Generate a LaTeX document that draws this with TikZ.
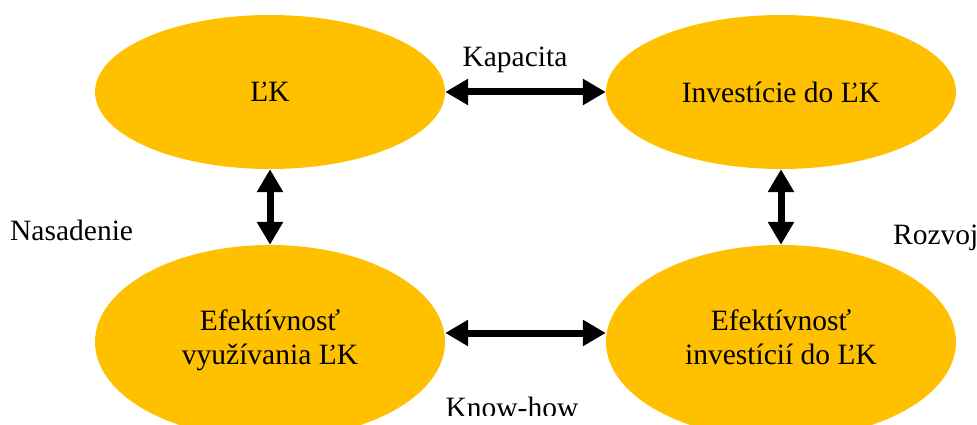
\documentclass[tikz,border=0pt]{standalone}
\usepackage{fontspec}
\setmainfont{Liberation Serif}
\usetikzlibrary{shapes.geometric,arrows.meta}
\definecolor{gold}{HTML}{FFC000}
\tikzset{
  blob/.style={ellipse, fill=gold, draw=none, minimum width=350pt, inner sep=0pt,
    font=\fontsize{29.5}{34}\selectfont, align=center, text depth=0pt},
  tallblob/.style={blob, minimum height=194pt, text depth=9pt},
  link/.style={line width=7pt, {Triangle[length=23pt,width=25pt]}-{Triangle[length=23pt,width=25pt]}},
  tag/.style={font=\fontsize{29.5}{34}\selectfont, inner sep=0pt}
}
\begin{document}
\begin{tikzpicture}[x=1pt,y=-1pt]
  \useasboundingbox (0,0) rectangle (977,425);
  \begin{scope}
    \clip (0,0) rectangle (977,425);
    % four ellipses
    \node[blob, minimum height=154pt] (lk)   at (270,92)  {ĽK};
    \node[blob, minimum height=154pt] (inv)  at (781,92)  {Investície do ĽK};
    \node[tallblob] (eff1) at (270,342) {Efektívnosť\\využívania ĽK};
    \node[tallblob] (eff2) at (781,342) {Efektívnosť\\investícií do ĽK};
  \end{scope}
  % double-headed connectors
  \draw[link] (lk) -- (inv);
  \draw[link] ([yshift=9pt]eff1.east) -- ([yshift=9pt]eff2.west);
  \draw[link] (lk.south) -- (eff1.north);
  \draw[link] (inv.south) -- (eff2.north);
  % labels
  \node[tag, anchor=base] (kap) at (515,67) {Kapacita};
  \node[tag, anchor=base west] (nas) at (10,240) {Nasadenie};
  \node[tag, anchor=base west] (roz) at (893,244) {Rozvoj};
  \begin{scope}
    \clip (0,0) rectangle (977,415);
    \node[tag, anchor=base] (know) at (512,417) {Know-how};
  \end{scope}
\end{tikzpicture}
\end{document}
